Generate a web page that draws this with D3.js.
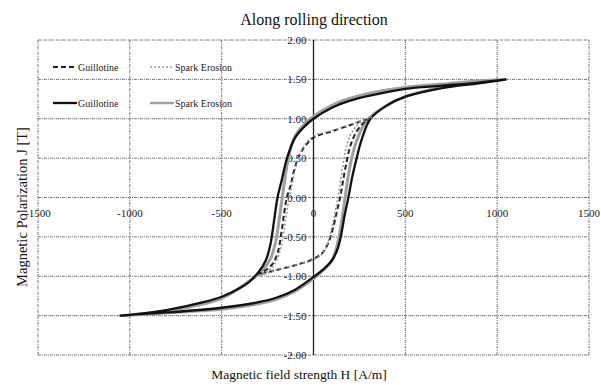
<!DOCTYPE html>
<html><head><meta charset="utf-8">
<script src="https://cdn.jsdelivr.net/npm/d3@7/dist/d3.min.js"></script>
<style>body{margin:0;background:#fff}svg{display:block}
svg text{font-family:"Liberation Serif","DejaVu Serif","Times New Roman",Times,serif}</style>
</head><body>
<svg id="c" width="601" height="385"></svg>
<script>
const xTicks = [-1500,-1000,-500,0,500,1000,1500];
const xTickLabels = ["-1500","-1000","-500","0","500","1000","1500"];
const yTicks = [-2,-1.5,-1,-0.5,0,0.5,1,1.5,2];
const yTickLabels = ["-2.00","-1.50","-1.00","-0.50","0.00","0.50","1.00","1.50","2.00"];
const seriesNames = ["Guillotine","Spark Erosion","Guillotine","Spark Erosion"];

// Major loops (H [A/m], J [T])
const guillotineMajorH = [1050,900,700,500,300,200,100,0,-50,-100,-130,-150,-175,-196,-215,-235,-260,-300,-350,-400,-500,-600,-800,-1000,-1050,
  -1000,-800,-500,-300,-200,-100,0,50,100,130,150,170,190,210,235,260,310,400,500,700,900,1050];
const guillotineMajorJ = [1.50,1.46,1.42,1.38,1.29,1.23,1.14,1.00,0.90,0.76,0.60,0.45,0.20,0.00,-0.30,-0.60,-0.80,-0.95,-1.07,-1.15,-1.26,-1.33,-1.43,-1.49,-1.50,
  -1.49,-1.46,-1.40,-1.33,-1.27,-1.17,-1.01,-0.92,-0.80,-0.66,-0.48,-0.22,0.00,0.25,0.50,0.72,1.00,1.17,1.28,1.39,1.45,1.50];
const sparkMajorH = [1050,900,700,500,300,200,100,0,-50,-100,-125,-145,-158,-170,-185,-205,-235,-280,-350,-500,-700,-900,-1050,
  -900,-700,-500,-300,-200,-100,0,50,100,125,145,160,172,188,208,235,290,400,500,700,900,1050];
const sparkMajorJ = [1.50,1.48,1.44,1.40,1.32,1.26,1.17,1.03,0.93,0.78,0.62,0.40,0.20,0.00,-0.25,-0.55,-0.78,-0.93,-1.06,-1.28,-1.40,-1.47,-1.50,
  -1.48,-1.45,-1.42,-1.35,-1.29,-1.19,-1.03,-0.93,-0.80,-0.64,-0.42,-0.20,0.00,0.25,0.50,0.72,0.98,1.17,1.28,1.40,1.46,1.50];
// Minor loops
const guillotineMinorH = [300,250,200,100,0,-50,-80,-105,-125,-145,-160,-175,-195,-225,-265,-305,
  -250,-200,-100,0,50,80,105,125,145,160,180,200,230,265,300];
const guillotineMinorJ = [1.00,0.96,0.92,0.84,0.76,0.64,0.52,0.35,0.15,0.00,-0.20,-0.45,-0.70,-0.85,-0.93,-0.98,
  -0.95,-0.92,-0.86,-0.78,-0.70,-0.58,-0.40,-0.20,0.00,0.20,0.45,0.65,0.82,0.93,1.00];
const sparkMinorH = [320,250,200,100,0,-50,-80,-100,-118,-132,-148,-165,-185,-215,-260,-310,
  -250,-200,-100,0,50,78,100,118,133,148,165,185,215,260,320];
const sparkMinorJ = [1.02,0.97,0.93,0.85,0.78,0.66,0.52,0.36,0.15,0.00,-0.22,-0.48,-0.70,-0.86,-0.95,-1.00,
  -0.96,-0.92,-0.86,-0.79,-0.71,-0.57,-0.38,-0.18,0.00,0.22,0.48,0.70,0.85,0.96,1.02];

const svg = d3.select("#c");
const x = d3.scaleLinear().domain([-1500,1500]).range([38,589]);
const y = d3.scaleLinear().domain([-2,2]).range([355,40]);

// grid
const grid = svg.append("g");
const gridColor = "#777";
xTicks.forEach(t => {
  if (t === 0) return;
  grid.append("line").attr("x1",x(t)).attr("x2",x(t)).attr("y1",y(2)).attr("y2",y(-2))
    .attr("stroke",gridColor).attr("stroke-width",1).attr("stroke-dasharray","3,1,1,1");
});
yTicks.forEach(t => {
  grid.append("line").attr("x1",x(-1500)).attr("x2",x(1500)).attr("y1",y(t)).attr("y2",y(t))
    .attr("stroke",gridColor).attr("stroke-width",1).attr("stroke-dasharray","3,1,1,1");
});
// y axis at H=0
svg.append("line").attr("x1",x(0)).attr("x2",x(0)).attr("y1",y(2)).attr("y2",y(-2))
  .attr("stroke","#222").attr("stroke-width",1.3);

// tick labels
svg.append("g").selectAll("text").data(xTicks).join("text")
  .attr("x",d=>x(d)).attr("y",y(0)+19).attr("text-anchor","middle")
  .attr("font-size",11).attr("fill","#222")
  .text((d,i)=>xTickLabels[i]);
svg.append("g").selectAll("text").data(yTicks).join("text")
  .attr("x",x(0)-7).attr("y",d=>y(d)+4).attr("text-anchor","end")
  .attr("font-size",11).attr("fill","#222")
  .text((d,i)=>yTickLabels[i]);

// curves
const line = d3.line().x(d=>x(d[0])).y(d=>y(d[1])).curve(d3.curveCatmullRom.alpha(0.5));
const zip = (a,b) => a.map((v,i)=>[v,b[i]]);
const styles = [
  {H:sparkMajorH,J:sparkMajorJ,stroke:"#a0a0a0",w:3,dash:null},
  {H:guillotineMajorH,J:guillotineMajorJ,stroke:"#111",w:2.3,dash:null},
  {H:guillotineMinorH,J:guillotineMinorJ,stroke:"#222",w:2,dash:"5,3"},
  {H:sparkMinorH,J:sparkMinorJ,stroke:"#999",w:1.6,dash:"2,2"}
];
styles.forEach(s => {
  svg.append("path").attr("d",line(zip(s.H,s.J))).attr("fill","none")
    .attr("stroke",s.stroke).attr("stroke-width",s.w)
    .attr("stroke-dasharray",s.dash).attr("stroke-linejoin","round");
});

// legend
const leg = [
  {x:53,y:67,stroke:"#222",w:2,dash:"5,3",name:seriesNames[0]},
  {x:150,y:67,stroke:"#999",w:1.6,dash:"2,2",name:seriesNames[1]},
  {x:53,y:103,stroke:"#111",w:2.3,dash:null,name:seriesNames[2]},
  {x:150,y:103,stroke:"#a0a0a0",w:2.5,dash:null,name:seriesNames[3]}
];
leg.forEach(l => {
  svg.append("line").attr("x1",l.x).attr("x2",l.x+24).attr("y1",l.y).attr("y2",l.y)
    .attr("stroke",l.stroke).attr("stroke-width",l.w).attr("stroke-dasharray",l.dash);
  svg.append("text").attr("x",l.x+25).attr("y",l.y+3.5)
    .attr("font-size",10).attr("fill","#222").text(l.name);
});

// titles
svg.append("text").attr("x",314).attr("y",25).attr("text-anchor","middle")
  .attr("font-size",16).attr("fill","#111").text("Along rolling direction");
svg.append("text").attr("x",299).attr("y",379).attr("text-anchor","middle")
  .attr("font-size",13.5).attr("fill","#111").text("Magnetic field strength H [A/m]");
svg.append("text").attr("transform","translate(27,207) rotate(-90)").attr("text-anchor","middle")
  .attr("font-size",14.5).attr("fill","#111").text("Magnetic Polarization J [T]");
</script>
</body></html>
